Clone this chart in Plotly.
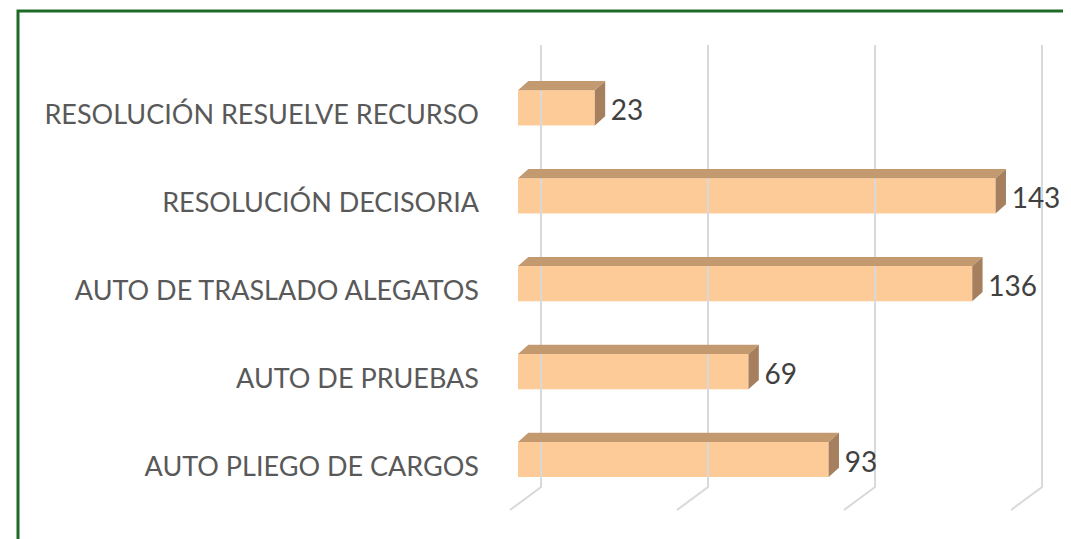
import plotly.graph_objects as go

categories = ["AUTO PLIEGO DE CARGOS", "AUTO DE PRUEBAS", "AUTO DE TRASLADO ALEGATOS",
              "RESOLUCIÓN DECISORIA", "RESOLUCIÓN RESUELVE RECURSO"]
values = [93, 69, 136, 143, 23]
grid_vals = [0, 50, 100, 150]

FRONT = "#FDCB98"
TOP = "#C39A70"
SIDE = "#A6805E"
GRID = "#D9D9D9"

bar_w = 0.40
dx, dy = 3.1, 0.105           # 3D depth offset (data units)
back_dx = 6.9                 # back wall offset for gridlines
grid_top, grid_bot = 4.716, -0.313
front_dx, front_y = -2.4, -0.575

fig = go.Figure()

for g in grid_vals:
    fig.add_trace(go.Scatter(
        x=[g + back_dx, g + back_dx, g + front_dx],
        y=[grid_top, grid_bot, front_y],
        mode="lines", line=dict(color=GRID, width=2),
        hoverinfo="skip", showlegend=False))

ys = list(range(len(categories)))

fig.add_trace(go.Bar(x=values, y=ys, orientation="h", width=bar_w,
                     marker=dict(color=FRONT, line=dict(width=0)),
                     showlegend=False))

for v, y in zip(values, ys):
    t = y + bar_w / 2
    b = y - bar_w / 2
    fig.add_trace(go.Scatter(
        x=[0, v, v + dx, dx, 0], y=[t, t, t + dy, t + dy, t],
        fill="toself", fillcolor=TOP, line=dict(width=0), mode="lines",
        hoverinfo="skip", showlegend=False))
    fig.add_trace(go.Scatter(
        x=[v, v + dx, v + dx, v, v], y=[b, b + dy, t + dy, t, b],
        fill="toself", fillcolor=SIDE, line=dict(width=0), mode="lines",
        hoverinfo="skip", showlegend=False))

fig.add_trace(go.Scatter(
    x=[v + dx + 1.7 for v in values], y=[y - 0.06 for y in ys], mode="text",
    text=[str(v) for v in values], textposition="middle right",
    textfont=dict(family="Lato", size=28, color="#404040"),
    hoverinfo="skip", showlegend=False))

OFF = 8  # page body margin
W, H = 1071 - OFF, 539 - OFF
L, R, T, B = 500 - OFF, 11, 40 - OFF, 24
pw, ph = W - L - R, H - T - B

fig.update_layout(
    width=W, height=H,
    margin=dict(l=L, r=R, t=T, b=B),
    paper_bgcolor="white", plot_bgcolor="white",
    xaxis=dict(range=[(500 - 518) / 3.34, (1060 - 518) / 3.34],
               showgrid=False, zeroline=False, showticklabels=False,
               showline=False, fixedrange=True),
    yaxis=dict(range=[(459.5 - 515) / 87.9, (459.5 - 40) / 87.9],
               tickvals=ys, ticktext=categories,
               showgrid=False, zeroline=False, showline=False,
               ticks="", ticklabelstandoff=20, ticklabelshift=7,
               tickfont=dict(family="Lato", size=27, color="#595959")),
    shapes=[dict(type="rect", xref="paper", yref="paper",
                 x0=(18 - 500) / pw, x1=1.1, y0=-0.2, y1=(515 - 11) / ph,
                 line=dict(color="#1E6B28", width=3), fillcolor="rgba(0,0,0,0)",
                 layer="above")],
)

fig.write_html("out.html")
